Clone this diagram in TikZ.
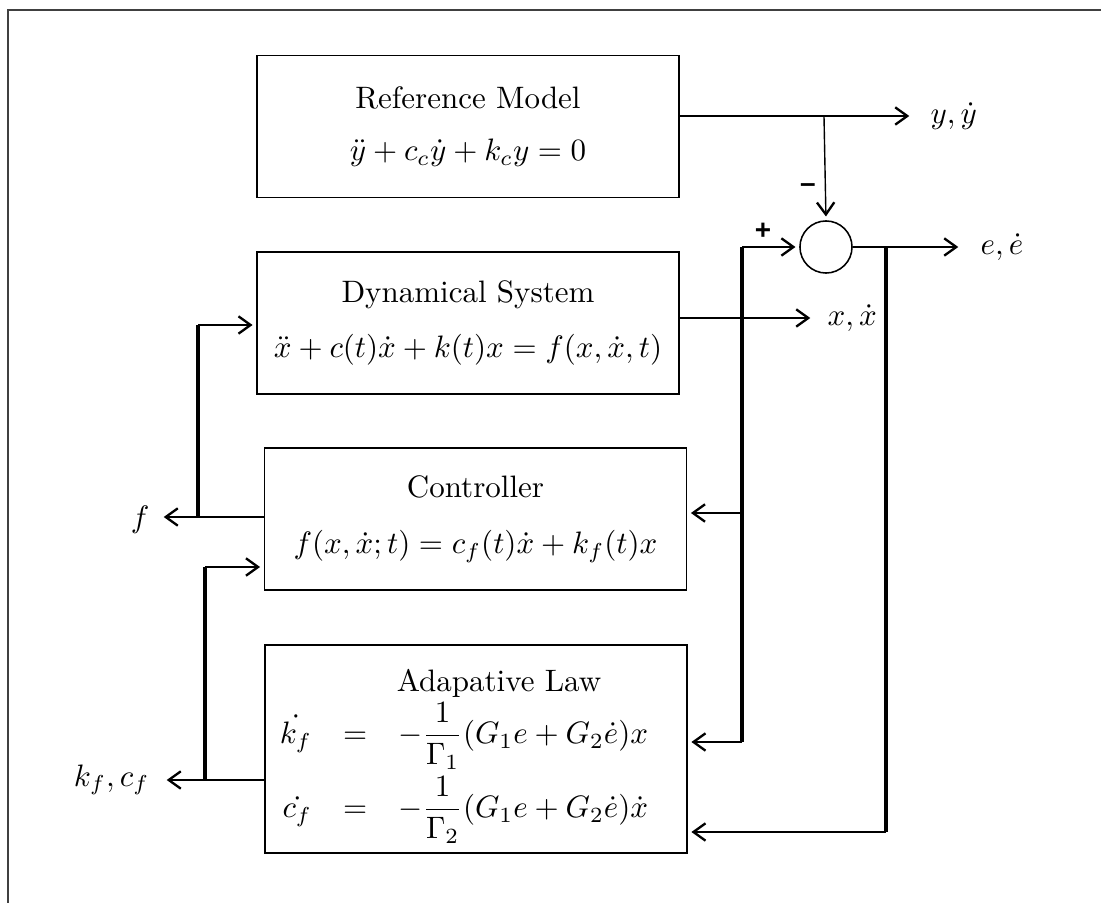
\documentclass[tikz,border=0pt]{standalone}
\usepackage{amsmath}
\usepackage{fontspec}
\newfontfamily\pmfont{Liberation Sans}
\usetikzlibrary{arrows.meta}
\begin{document}
\begin{tikzpicture}[x=0.3226pt,y=-0.3226pt,
  box/.style={draw,line width=0.5pt,minimum width=136.1pt,minimum height=45.7pt,align=center,inner sep=0pt},
  sumnode/.style={draw,circle,line width=0.5pt,minimum size=16.8pt,inner sep=0pt},
  sig/.style={line width=0.45pt},
  bus/.style={line width=1.15pt},
  arr/.style={sig,-{Straight Barb[length=3.9pt,width=5.6pt,line width=0.75pt]},shorten >=1.2pt},
  lab/.style={inner sep=0pt},
  pm/.style={inner sep=0pt,font=\pmfont\bfseries\small},
  frame/.style={line width=0.65pt,draw=black!75}]
\useasboundingbox (0,0) rectangle (1101,903);
% frame
\coordinate (fl) at (8,903);
\coordinate (fc) at (8,10);
\coordinate (fr) at (1101,10);
\draw[frame] (fl) -- (fc) -- (fr);

% blocks
\node[box] (RM) at (468,126.5) {Reference Model\\[5pt]$\ddot y+c_c\dot y+k_cy=0$};
\node[box] (DS) at (468,323) {Dynamical System\\[6pt]$\ddot x+c(t)\dot x+k(t)x=f(x,\dot x,t)$};
\node[box] (CT) at (475.5,519) {Controller\\[6pt]$f(x,\dot x;t)=c_f(t)\dot x+k_f(t)x$};
\node[box,minimum height=67.1pt] (AL) at (476,749) {};
\node[lab] (ALtitle) at (499,683) {Adapative Law};
\node[lab] (ALeq) at (464,773)
  {$\begin{array}{rcl}\dot{k_f}&=&-\dfrac{1}{\Gamma_1}(G_1e+G_2\dot e)x\\[7pt]
  \dot{c_f}&=&-\dfrac{1}{\Gamma_2}(G_1e+G_2\dot e)\dot x\end{array}$};
\node[sumnode] (S) at (826,247) {};

% outputs
\coordinate (yo) at (913,116);
\coordinate (jy) at (824,116);
\node[lab,anchor=west] (ly) at (930,116) {$y,\dot y$};
\draw[arr] (RM.east |- yo) -- (yo);
\draw[arr] (jy) -- (S.north);
\node[pm] (minus) at (808,188) {\textendash};

\coordinate (eo) at (962,247);
\node[lab,anchor=west] (le) at (980,247) {$e,\dot e$};
\draw[arr] (S.east) -- (eo);

\coordinate (xo) at (814,318);
\node[lab,anchor=west] (lx) at (827,318) {$x,\dot x$};
\draw[arr] (DS.east |- xo) -- (xo);

% feedback buses on the right
\coordinate (jp) at (742,247);
\coordinate (jpb) at (742,742);
\coordinate (jc) at (742,513);
\draw[arr] (jp) -- (S.west);
\node[pm] (plus) at (763,231) {+};
\draw[bus] (jp) -- (jpb);
\draw[arr] (jc) -- (CT.east |- jc);
\draw[arr] (jpb) -- (AL.east |- jpb);

\coordinate (je) at (886,247);
\coordinate (jeb) at (886,832);
\draw[bus] (je) -- (jeb);
\draw[arr] (jeb) -- (AL.east |- jeb);

% left side
\coordinate (fo) at (160,517);
\coordinate (jf) at (198,517);
\coordinate (jft) at (198,325);
\node[lab,anchor=east] (lf) at (150,520) {$f$};
\draw[arr] (CT.west |- fo) -- (fo);
\draw[bus] (jf) -- (jft);
\draw[arr] (jft) -- (DS.west |- jft);

\coordinate (ko) at (163,780);
\coordinate (jk) at (205,780);
\coordinate (jkt) at (205,567);
\node[lab,anchor=east] (lk) at (150,780) {$k_f,c_f$};
\draw[arr] (AL.west |- ko) -- (ko);
\draw[bus] (jk) -- (jkt);
\draw[arr] (jkt) -- (CT.west |- jkt);
\end{tikzpicture}
\end{document}
